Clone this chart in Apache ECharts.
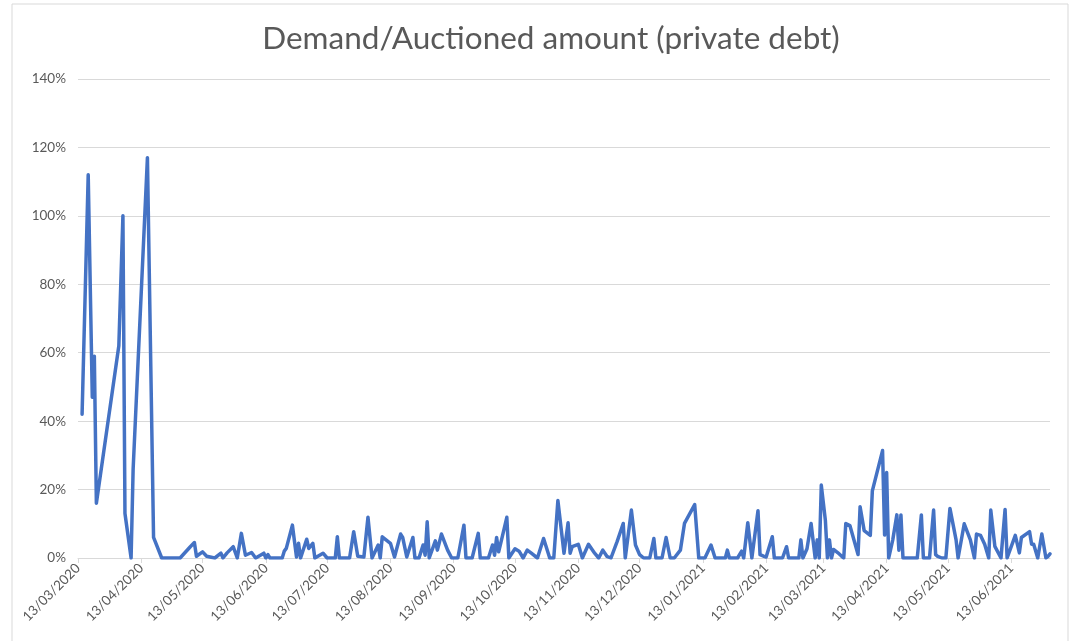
<!DOCTYPE html>
<html>
<head>
<meta charset="utf-8">
<title>Demand/Auctioned amount (private debt)</title>
<script src="https://cdn.jsdelivr.net/npm/echarts@6/dist/echarts.min.js"></script>
<style>
  html, body { margin: 0; padding: 0; background: #fff; }
  #chart { width: 1069px; height: 641px; }
</style>
</head>
<body>
<div id="chart"></div>
<script>
// axis runs day by day from the first to the last observation
const startDate = '13/03/2020'
const endDate = '02/07/2021'

// observation dates (dd/mm/yyyy) and demand / auctioned amount in %
const obsDates = [
  '15/03/2020', '18/03/2020', '20/03/2020', '21/03/2020', '22/03/2020', '02/04/2020', '04/04/2020', '05/04/2020',
  '08/04/2020', '09/04/2020', '16/04/2020', '19/04/2020', '23/04/2020', '02/05/2020', '07/05/2020', '09/05/2020',
  '10/05/2020', '13/05/2020', '15/05/2020', '19/05/2020', '22/05/2020', '23/05/2020', '25/05/2020', '28/05/2020',
  '30/05/2020', '01/06/2020', '03/06/2020', '06/06/2020', '08/06/2020', '12/06/2020', '13/06/2020', '14/06/2020',
  '15/06/2020', '21/06/2020', '22/06/2020', '23/06/2020', '26/06/2020', '28/06/2020', '29/06/2020', '30/06/2020',
  '03/07/2020', '04/07/2020', '06/07/2020', '07/07/2020', '11/07/2020', '13/07/2020', '17/07/2020', '18/07/2020',
  '19/07/2020', '24/07/2020', '26/07/2020', '28/07/2020', '31/07/2020', '02/08/2020', '04/08/2020', '07/08/2020',
  '08/08/2020', '09/08/2020', '13/08/2020', '15/08/2020', '18/08/2020', '19/08/2020', '21/08/2020', '24/08/2020',
  '25/08/2020', '27/08/2020', '29/08/2020', '30/08/2020', '31/08/2020', '01/09/2020', '04/09/2020', '05/09/2020',
  '07/09/2020', '10/09/2020', '12/09/2020', '15/09/2020', '18/09/2020', '19/09/2020', '22/09/2020', '25/09/2020',
  '26/09/2020', '30/09/2020', '02/10/2020', '03/10/2020', '04/10/2020', '05/10/2020', '06/10/2020', '09/10/2020',
  '10/10/2020', '13/10/2020', '15/10/2020', '17/10/2020', '19/10/2020', '21/10/2020', '24/10/2020', '27/10/2020',
  '30/10/2020', '01/11/2020', '03/11/2020', '06/11/2020', '08/11/2020', '09/11/2020', '10/11/2020', '13/11/2020',
  '15/11/2020', '18/11/2020', '21/11/2020', '23/11/2020', '25/11/2020', '27/11/2020', '29/11/2020', '02/12/2020',
  '05/12/2020', '06/12/2020', '09/12/2020', '11/12/2020', '13/12/2020', '15/12/2020', '18/12/2020', '20/12/2020',
  '21/12/2020', '24/12/2020', '26/12/2020', '28/12/2020', '30/12/2020', '02/01/2021', '04/01/2021', '09/01/2021',
  '11/01/2021', '14/01/2021', '17/01/2021', '19/01/2021', '24/01/2021', '25/01/2021', '26/01/2021', '30/01/2021',
  '01/02/2021', '02/02/2021', '04/02/2021', '06/02/2021', '09/02/2021', '10/02/2021', '12/02/2021', '13/02/2021',
  '16/02/2021', '17/02/2021', '21/02/2021', '23/02/2021', '24/02/2021', '01/03/2021', '02/03/2021', '03/03/2021',
  '05/03/2021', '07/03/2021', '09/03/2021', '10/03/2021', '11/03/2021', '12/03/2021', '14/03/2021', '15/03/2021',
  '16/03/2021', '17/03/2021', '18/03/2021', '20/03/2021', '22/03/2021', '23/03/2021', '24/03/2021', '26/03/2021',
  '30/03/2021', '31/03/2021', '02/04/2021', '05/04/2021', '06/04/2021', '11/04/2021', '12/04/2021', '13/04/2021',
  '14/04/2021', '16/04/2021', '18/04/2021', '19/04/2021', '20/04/2021', '21/04/2021', '28/04/2021', '30/04/2021',
  '01/05/2021', '04/05/2021', '06/05/2021', '07/05/2021', '08/05/2021', '10/05/2021', '12/05/2021', '14/05/2021',
  '17/05/2021', '18/05/2021', '21/05/2021', '24/05/2021', '26/05/2021', '27/05/2021', '29/05/2021', '31/05/2021',
  '02/06/2021', '03/06/2021', '05/06/2021', '08/06/2021', '10/06/2021', '11/06/2021', '15/06/2021', '17/06/2021',
  '18/06/2021', '22/06/2021', '23/06/2021', '24/06/2021', '26/06/2021', '28/06/2021', '30/06/2021', '01/07/2021',
  '02/07/2021'
]

const obsValues = [
  42, 112, 47, 59, 16, 62, 100, 13,
  0, 26, 117, 6, 0, 0, 3.3, 4.5,
  0.5, 1.8, 0.5, 0, 1.4, 0, 1.5, 3.3,
  0, 7.2, 0.8, 1.6, 0, 1.4, 0, 1,
  0, 0, 2, 2.8, 9.6, 0.3, 4.3, 0,
  5.5, 2.8, 4.3, 0, 1.4, 0, 0, 6.2,
  0, 0, 7.7, 0.5, 0.3, 11.9, 0, 3.8,
  0, 6.2, 4.3, 0.3, 7, 6, 0.3, 6,
  0, 0, 3.8, 0.8, 10.6, 0, 5, 2.3,
  7, 2.3, 0, 0, 9.6, 0, 0, 7.2,
  0, 0, 3.8, 0.8, 6, 1.8, 4.3, 11.9,
  0, 2.7, 2, 0, 2.3, 1.4, 0, 5.7,
  0, 0, 16.8, 1.4, 10.3, 1.4, 3.3, 4,
  0, 4, 1.4, 0, 2.3, 0.5, 0, 4.8,
  10.1, 0, 14, 3.8, 1, 0, 0, 5.7,
  0, 0, 6, 0, 0, 2.3, 10.1, 15.6,
  0, 0, 3.8, 0, 0, 2.3, 0, 0,
  2, 0, 10.3, 0, 13.8, 1, 0.5, 0.3,
  6.2, 0, 0, 3.3, 0, 0, 5.3, 0,
  2.7, 10.1, 0, 5.3, 0, 21.3, 11, 0,
  5.3, 0, 2.5, 1.6, 0.5, 0, 10.1, 9.5,
  1, 15, 8, 6.6, 19.6, 31.4, 6.7, 25,
  0, 5.3, 12.6, 2.3, 12.6, 0, 0, 12.6,
  0, 0, 14, 1, 0.5, 0, 0, 14.5,
  5.3, 0, 10, 5.3, 0, 7, 6.6, 4,
  0, 14, 3.4, 0, 14.2, 0, 6.6, 1.5,
  6, 7.7, 4, 4, 0, 7, 0, 0.5,
  1.2
]

const yTicks = [0, 20, 40, 60, 80, 100, 120, 140]

function parseDate(s) {
  const p = s.split('/')
  return Date.UTC(+p[2], +p[1] - 1, +p[0])
}
function fmt(t) {
  const d = new Date(t)
  const dd = String(d.getUTCDate()).padStart(2, '0')
  const mm = String(d.getUTCMonth() + 1).padStart(2, '0')
  return dd + '/' + mm + '/' + d.getUTCFullYear()
}

// every calendar day is one category, observations are joined across gaps
const days = []
for (let t = parseDate(startDate); t <= parseDate(endDate); t += 86400000) {
  days.push(fmt(t))
}
const lookup = {}
obsDates.forEach((d, i) => { lookup[d] = obsValues[i] })
const seriesData = days.map(d => (d in lookup ? lookup[d] : null))

const monthTick = (index, value) => value.slice(0, 3) === '13/'

const chart = echarts.init(document.getElementById('chart'))
chart.setOption({
  animation: false,
  textStyle: { fontFamily: 'Lato, "Liberation Sans", sans-serif' },
  graphic: [
    {
      type: 'rect',
      shape: { x: 12, y: 4, width: 1056, height: 660 },
      style: { fill: 'none', stroke: '#d9d9d9', lineWidth: 1 },
      silent: true
    }
  ],
  title: {
    text: 'Demand/Auctioned amount (private debt)',
    left: 546,
    textAlign: 'center',
    top: 18,
    textStyle: { fontSize: 31.5, fontWeight: 'normal', color: '#595959', fontFamily: 'Lato' }
  },
  grid: { left: 78, right: 19, top: 79, bottom: 83, containLabel: false },
  xAxis: {
    type: 'category',
    data: days,
    boundaryGap: false,
    axisLine: { lineStyle: { color: '#d9d9d9', width: 1 } },
    axisTick: { show: true, interval: monthTick, length: 5, lineStyle: { color: '#d9d9d9' } },
    axisLabel: {
      interval: monthTick,
      rotate: 45,
      color: '#595959',
      fontSize: 13.5,
      margin: 8
    },
    splitLine: { show: false }
  },
  yAxis: {
    type: 'value',
    min: yTicks[0],
    max: yTicks[yTicks.length - 1],
    interval: 20,
    axisLine: { show: false },
    axisTick: { show: false },
    axisLabel: { color: '#595959', fontSize: 13.5, margin: 12, formatter: '{value}%' },
    splitLine: { lineStyle: { color: '#d9d9d9', width: 1 } }
  },
  series: [
    {
      name: 'Demand/Auctioned amount',
      type: 'line',
      data: seriesData,
      connectNulls: true,
      showSymbol: false,
      symbol: 'none',
      lineStyle: { color: '#4472c4', width: 3.5, cap: 'round', join: 'round' },
      itemStyle: { color: '#4472c4' }
    }
  ]
})
</script>
</body>
</html>
